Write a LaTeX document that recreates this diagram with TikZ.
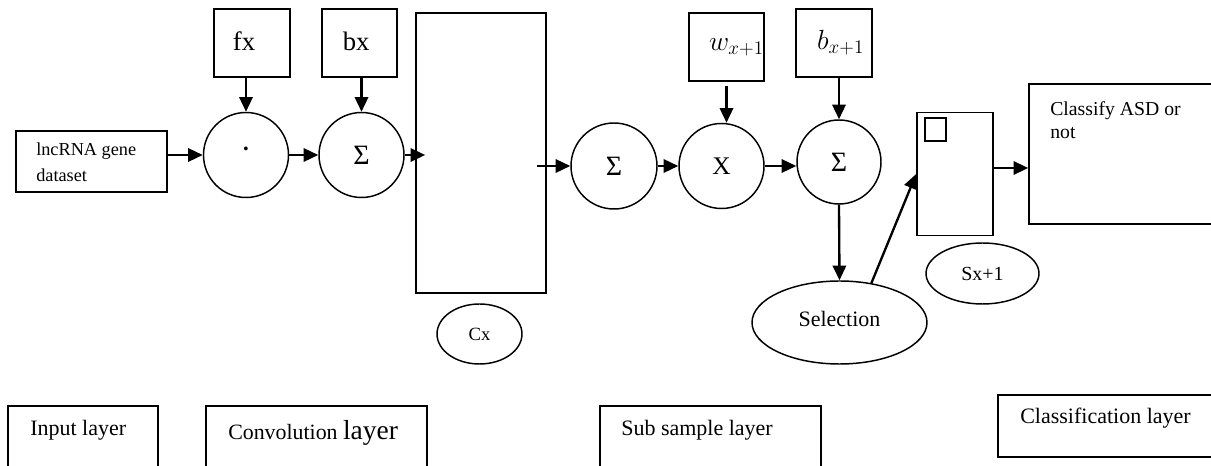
\documentclass[tikz,border=0pt]{standalone}
\usepackage{fontspec}
\setmainfont{Liberation Serif}
\usetikzlibrary{arrows.meta,shapes.geometric,calc}
\newcommand\fsz[2]{\fontsize{#1}{#2}\selectfont}
\begin{document}
\begin{tikzpicture}[x=0.75pt,y=-0.75pt,
  box/.style={draw, rectangle, line width=1.25pt, inner sep=0pt},
  circ/.style={draw, circle, line width=1.1pt, inner sep=0pt, minimum size=85*0.75pt},
  ell/.style={draw, ellipse, line width=1.1pt, inner sep=0pt},
  sz/.style 2 args={minimum width=#1*0.75pt, minimum height=#2*0.75pt},
  txt/.style={inner sep=0pt, align=left},
  arr/.style={line width=1.75pt, -{Triangle[length=11pt,width=10pt]}},
]
\useasboundingbox (0,0) rectangle (1211,466);

% input
\node[box, sz={151}{61}] (inp) at (91.5,161.5) {};
\node[txt, anchor=west, font=\fsz{13.7}{19.5}] (inptxt) at (36,162) {lncRNA gene\\dataset};

% convolution part
\node[box, sz={76}{68}, font=\fsz{20}{22}] (fx) at (252,43) {\raisebox{3pt}{fx}\hspace*{12pt}};
\node[box, sz={75}{68}, font=\fsz{20}{22}] (bx) at (359.5,43) {\raisebox{3pt}{bx}\hspace*{5pt}};
\node[circ, font=\fsz{24}{26}] (c1) at (246,155) {\raisebox{3pt}{·}};
\node[circ, font=\fsz{21}{22}] (s1) at (361.5,155) {Σ};
\node[box, sz={130}{280}] (conv) at (481,153) {};
\node[ell, sz={85}{60}, font=\fsz{14}{15}] (cx) at (479.5,334) {Cx};

% sub sampling part
\node[circ, minimum size=86*0.75pt, font=\fsz{21}{22}] (s2) at (614,166) {Σ};
\node[circ, font=\fsz{19}{20}] (xm) at (721.5,166) {X};
\node[box, sz={75}{68}, font=\fsz{20}{22}] (wb) at (726.5,47) {\hspace*{15pt}$w_{x+1}$};
\node[box, sz={76}{68}, font=\fsz{20}{22}] (bb) at (834,43) {\hspace*{10pt}$b_{x+1}$};
\node[circ, minimum size=84*0.75pt, font=\fsz{21}{22}] (s3) at (839,162) {Σ};
\node[ell, sz={175}{83}, font=\fsz{16.5}{18}] (sel) at (839.5,322.5) {\raisebox{6pt}{Selection}};
\node[ell, sz={113}{61}, font=\fsz{15}{17}] (sx) at (982.5,273.5) {Sx+1};
\node[box, sz={76}{123}] (pool) at (955,174) {};
\node[box, sz={21}{23}, line width=1pt] (sq) at (935.5,129.5) {};

% classification
\node[box, sz={211}{140}] (cls) at (1134.5,154) {};
\node[txt, anchor=north west, font=\fsz{14.8}{17.3}] (clstxt) at (1050,101) {Classify ASD or\\not};

% layer labels
\node[box, sz={150}{80}] (l1) at (83,446) {};
\node[txt, anchor=west, font=\fsz{16.5}{18}] (l1t) at (30,430) {Input layer};
\node[box, sz={221}{80}] (l2) at (316.5,446) {};
\node[txt, anchor=west, font=\fsz{16.4}{18}] (l2t) at (228,433) {Convolution {\fsz{20.6}{22}layer}};
\node[box, sz={221}{80}] (l3) at (710.5,446) {};
\node[txt, anchor=west, font=\fsz{16.5}{18}] (l3t) at (621,430) {Sub sample layer};
\node[box, sz={242}{62}] (l4) at (1119,426) {};
\node[txt, anchor=west, font=\fsz{16.5}{18}] (l4t) at (1020,418) {Classification layer};

% connectors
\draw[arr] (inp.east |- c1.west) -- (c1.west);
\draw[arr] (c1.north |- fx.south) -- (c1.north);
\draw[arr] (s1.north |- bx.south) -- (s1.north);
\draw[arr] (c1.east) -- (s1.west);
\draw[arr] (s1.east) -- ($(conv.west |- s1.east)+(10,0)$);
\draw[arr] ($(conv.east |- s2.west)+(-10,0)$) -- (s2.west);
\draw[arr] (s2.east) -- (xm.west);
\draw[arr] (xm.east) -- (xm.east -| s3.west);
\draw[arr] ($(wb.south)+(0,4)$) -- (wb.south |- xm.north);
\draw[arr] (s3.north |- bb.south) -- (s3.north);
\draw[arr] (s3.south) -- (sel.north);
\draw[arr] (sel.51) -- (pool.west);
\draw[arr] ($(pool.east)+(0,-6)$) -- ($(pool.east -| cls.west)+(0,-6)$);
\end{tikzpicture}
\end{document}
